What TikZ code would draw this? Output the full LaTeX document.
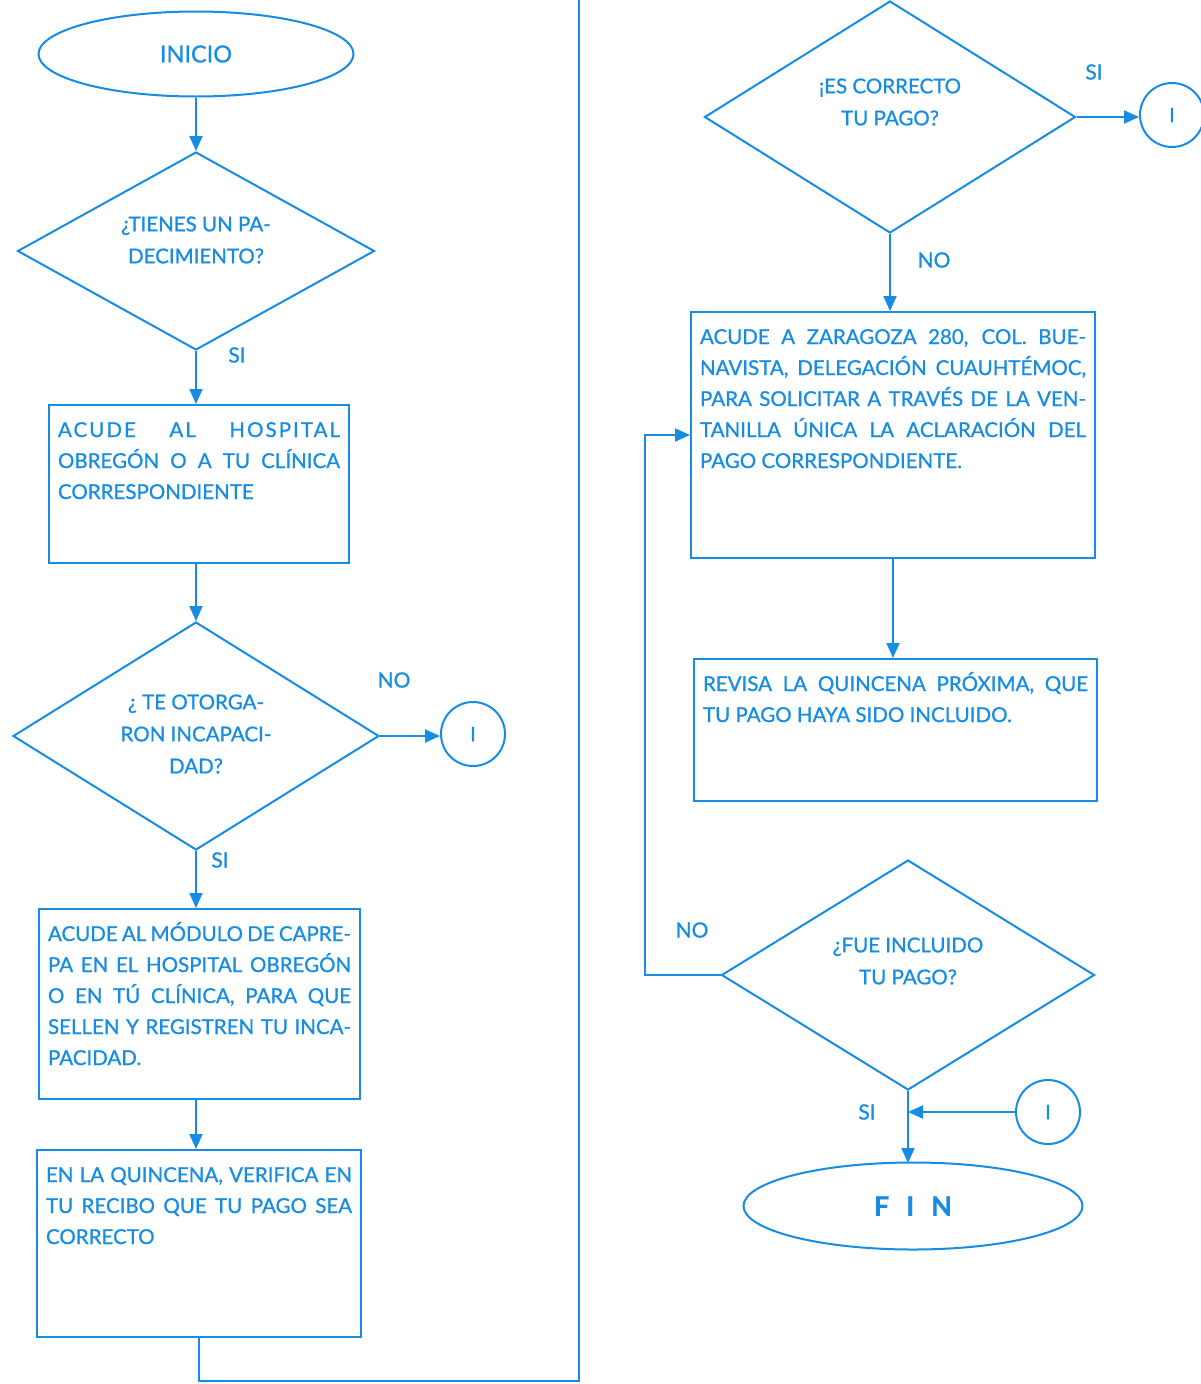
\documentclass[tikz,border=0pt]{standalone}
\usepackage{fontspec}
\setmainfont{Lato}[FakeBold=0.8]
\usetikzlibrary{shapes.geometric,arrows.meta}
\definecolor{fblue}{RGB}{22,140,226}
\newcommand\jl[1]{\makebox[\linewidth][s]{#1}}
\newcommand\boxtxt[3]{\parbox[t][#2pt][t]{#1pt}{\fontsize{20.5}{31}\selectfont\rule{0pt}{32pt}#3}}
\tikzset{
  box/.style={draw=fblue, line width=2pt, rectangle, inner xsep=9pt, inner ysep=0pt, anchor=north west, text=fblue},
  dia/.style={draw=fblue, line width=2pt, diamond, inner sep=0pt},
  term/.style={draw=fblue, line width=2pt, ellipse, inner sep=0pt, text=fblue},
  conn/.style={draw=fblue, line width=2pt, circle, inner sep=0pt, minimum size=64pt, text=fblue, font=\fontsize{20}{23}\selectfont},
  arr/.style={draw=fblue, line width=2pt, -{Triangle[length=15pt,width=13pt]}},
  lbl/.style={text=fblue, font=\fontsize{21}{25}\selectfont},
  dtxt/.style={text=fblue, align=center, font=\fontsize{20.5}{32}\selectfont},
}
\begin{document}
\begin{tikzpicture}[x=1pt,y=-1pt]
\useasboundingbox (0,0) rectangle (1201,1384);
\fill[white] (0,0) rectangle (1201,1384);
\clip (0,0) rectangle (1201,1384);

% ---------- left column ----------
\node[term, minimum width=315pt, minimum height=85pt, font=\fontsize{23.5}{28}\selectfont] (ini) at (196,54) {INICIO};
\node[dia, minimum width=357pt, minimum height=198pt] (d1) at (196,251) {};
\node[dtxt] (t1) at ([yshift=11pt]d1.center) {¿TIENES UN PA-\\DECIMIENTO?};
\node[box] (b2) at (48,404) {\boxtxt{282}{158}{%
  \jl{{\addfontfeature{LetterSpace=10}ACUDE AL HOSPITAL}}\\
  \jl{OBREGÓN O A TU CLÍNICA}\\
  CORRESPONDIENTE}};
\node[dia, minimum width=366pt, minimum height=228pt] (d2) at (196,736) {};
\node[dtxt] (t2) at ([yshift=2pt]d2.center) {¿ TE OTORGA-\\RON INCAPACI-\\DAD?};
\node[conn] (c1) at (473,734) {I};
\node[box] (b3) at (38,908) {\boxtxt{303}{190}{%
  \jl{ACUDE AL MÓDULO DE CAPRE-}\\
  \jl{PA EN EL HOSPITAL OBREGÓN}\\
  \jl{O EN TÚ CLÍNICA, PARA QUE}\\
  \jl{SELLEN Y REGISTREN TU INCA-}\\
  PACIDAD.}};
\node[box] (b4) at (36,1149) {\boxtxt{306}{187}{%
  \jl{EN LA QUINCENA, VERIFICA EN}\\
  \jl{TU RECIBO QUE TU PAGO SEA}\\
  CORRECTO}};

\node[lbl] (l1) at (237,355) {SI};
\node[lbl] (l2) at (394,680) {NO};
\node[lbl] (l3) at (220,860) {SI};

\draw[arr] (ini.south -| d1.north) -- (d1.north);
\draw[arr] (d1.south) -- (d1.south |- b2.north);
\draw[arr] (b2.south -| d2.north) -- (d2.north);
\draw[arr] (d2.east) -- (d2.east -| c1.west);
\draw[arr] (d2.south) -- (d2.south |- b3.north);
\draw[arr] (b3.south -| d2.south) -- (d2.south |- b4.north);

% ---------- right column ----------
\node[dia, minimum width=371pt, minimum height=232pt] (d3) at (890,117) {};
\node[dtxt] (t3) at ([yshift=15pt]d3.center) {¡ES CORRECTO\\TU PAGO?};
\node[conn] (c2) at (1172,115) {I};
\node[box] (b5) at (690,311) {\boxtxt{386}{246}{%
  \jl{ACUDE A ZARAGOZA 280, COL. BUE-}\\
  \jl{NAVISTA, DELEGACIÓN CUAUHTÉMOC,}\\
  \jl{PARA SOLICITAR A TRAVÉS DE LA VEN-}\\
  \jl{TANILLA ÚNICA LA ACLARACIÓN DEL}\\
  PAGO CORRESPONDIENTE.}};
\node[box] (b6) at (693,658) {\boxtxt{385}{142}{%
  \jl{REVISA LA QUINCENA PRÓXIMA, QUE}\\
  TU PAGO HAYA SIDO INCLUIDO.}};
\node[dia, minimum width=373pt, minimum height=230pt] (d4) at (908,975) {};
\node[dtxt] (t4) at ([yshift=14pt]d4.center) {¿FUE INCLUIDO\\TU PAGO?};
\node[term, minimum width=339pt, minimum height=87pt, font=\bfseries\fontsize{27}{30}\selectfont] (fin) at (913,1206) {F\hspace{17pt}I\hspace{17pt}N};
\node[conn] (c3) at (1048,1112) {I};

\node[lbl] (l4) at (1094,72) {SI};
\node[lbl] (l5) at (934,260) {NO};
\node[lbl] (l6) at (692,930) {NO};
\node[lbl] (l7) at (867,1112) {SI};

\draw[arr] (d3.east) -- (d3.east -| c2.west);
\draw[arr] (d3.south) -- (d3.south |- b5.north);
\draw[arr] (b5.south) -- (b5.south |- b6.north);
\coordinate (lp) at (645,975);
\draw[arr] (d4.west) -- (lp) |- (b5.west);
\coordinate (fx) at (908,1163);
\draw[arr] (d4.south) -- (fx);
\draw[arr] (c3.west) -- (c3.west -| d4.south);

% ---------- long connector between columns ----------
\coordinate (br) at (579,1381);
\coordinate (tr) at (579,-40);
\draw[arr] (b4.south) -- (b4.south |- br) -- (br) -- (tr) -| (d3.north);
\end{tikzpicture}
\end{document}
